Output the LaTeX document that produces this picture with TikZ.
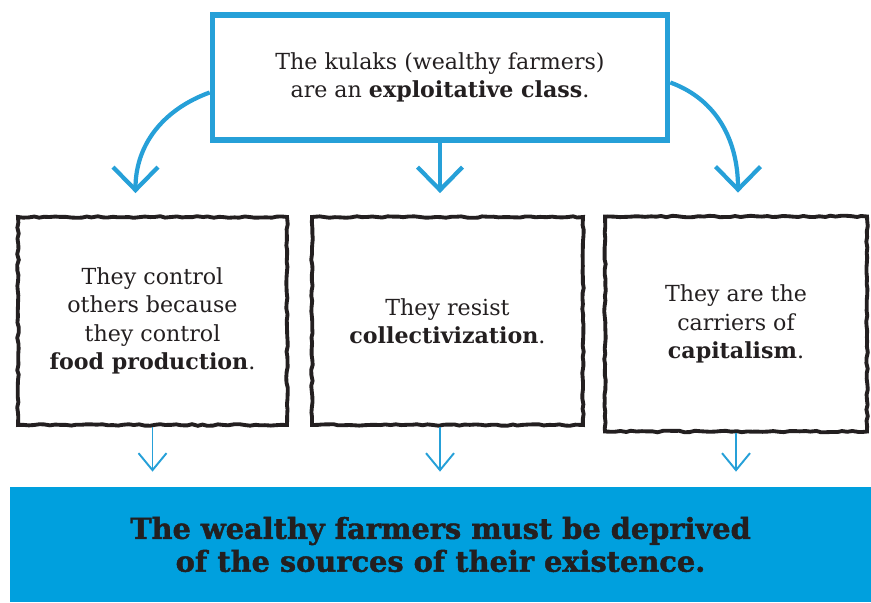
\documentclass[tikz,border=0pt]{standalone}
\usepackage{fontspec}
\setmainfont{DejaVu Serif}
\newfontfamily\heavyfont[BoldFeatures={FakeBold=1.5}]{DejaVu Serif}
\usepackage{xcolor}
\usetikzlibrary{arrows.meta,positioning,decorations.pathmorphing}

\definecolor{kblue}{RGB}{38,160,216}
\definecolor{kfill}{RGB}{0,160,222}
\definecolor{kink}{RGB}{35,31,32}

\begin{document}
\begin{tikzpicture}[
  font=\fontsize{12.6}{16.2}\selectfont,
  text=kink,
  topbox/.style={rectangle, draw=kblue, line width=3.2pt, minimum width=91mm,
                 minimum height=25mm, align=center},
  rough/.style={rectangle, draw=kink, line width=2.2pt, align=center,
                decorate, decoration={random steps, segment length=3pt, amplitude=0.45pt}},
  bigarr/.style={-{Straight Barb[length=4.6mm, width=9mm, line width=2.4pt]},
                 draw=kblue, line width=2.4pt},
  smallarr/.style={-{Straight Barb[length=3.4mm, width=5.6mm, line width=1.1pt]},
                 draw=kblue, line width=1.1pt, shorten >=3mm}
]
\pgfmathsetseed{7}
\useasboundingbox (0,0) rectangle (17.42,-12.04);

\node[topbox] (cls) at (8.8,-1.55)
  {The kulaks (wealthy farmers)\\are an \textbf{exploitative class}.};

% three reasons, hand drawn frames
\node[rough, minimum width=53.8mm, minimum height=41.6mm] (food) at (3.05,-6.42)
  {They control\\others because\\they control\\\textbf{food production}.};
\node[rough, minimum width=54.2mm, minimum height=41.6mm] (coll) at (8.95,-6.42)
  {They resist\\\textbf{collectivization}.};
\node[rough, minimum width=52.4mm, minimum height=43mm] (cap) at (14.72,-6.48)
  {They are the\\carriers of\\\textbf{capitalism}.};

\node[rectangle, fill=kfill, minimum width=172.2mm, minimum height=23mm,
      font=\heavyfont\fontsize{16.4}{18.7}\selectfont\bfseries, align=center] (depr) at (8.81,-10.89)
  {The wealthy farmers must be deprived\\of the sources of their existence.};

\draw[bigarr] ([yshift=-3mm]cls.west) to[out=200,in=90]
      ([xshift=-3.4mm,yshift=4.4mm]food.north);
\draw[bigarr] (cls.south) -- ([yshift=4.4mm]cls.south |- coll.north);
\draw[bigarr] ([yshift=-1mm]cls.east) to[out=-20,in=90]
      ([xshift=0.4mm,yshift=4.4mm]cap.north);

\draw[smallarr] (food.south) -- (food.south |- depr.north);
\draw[smallarr] ([xshift=-1.5mm]coll.south) -- ([xshift=-1.5mm]coll.south |- depr.north);
\draw[smallarr] (cap.south) -- (cap.south |- depr.north);

\end{tikzpicture}
\end{document}
